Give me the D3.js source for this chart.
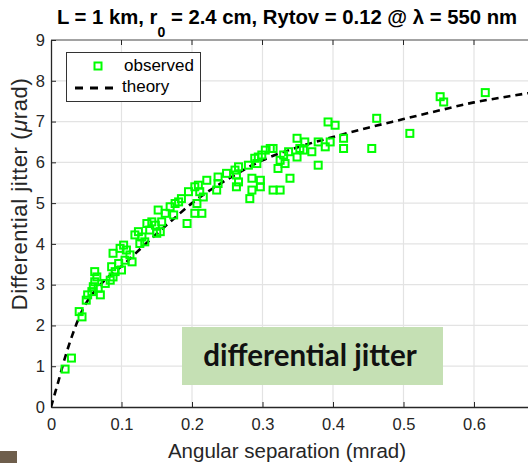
<!DOCTYPE html>
<html>
<head>
<meta charset="utf-8">
<script src="https://cdn.jsdelivr.net/npm/d3@7"></script>
<style>
  body { margin: 0; background: #fff; }
  svg { display: block; font-family: "Liberation Sans", Arial, sans-serif; }
</style>
</head>
<body>
<div id="chart"></div>
<script>
// Differential jitter vs angular separation — observed points and theory curve

const xTicks = [0, 0.1, 0.2, 0.3, 0.4, 0.5, 0.6];
const yTicks = [0, 1, 2, 3, 4, 5, 6, 7, 8, 9];

// observed: [separation (mrad), jitter (µrad)]
const observed = [
  [0.020, 0.93], [0.029, 1.20], [0.040, 2.34], [0.044, 2.21],
  [0.050, 2.62], [0.052, 2.75], [0.058, 2.83], [0.060, 2.95],
  [0.062, 3.07], [0.062, 3.32], [0.065, 3.19], [0.067, 2.91],
  [0.070, 2.75], [0.077, 3.03], [0.084, 3.11], [0.088, 3.19],
  [0.091, 3.32], [0.086, 3.44], [0.088, 3.77], [0.098, 3.89],
  [0.103, 3.97], [0.107, 3.85], [0.112, 3.73], [0.115, 3.56],
  [0.105, 3.60], [0.096, 3.52], [0.100, 3.36], [0.119, 4.22],
  [0.124, 4.30], [0.129, 4.17], [0.133, 4.05], [0.126, 4.01],
  [0.136, 4.50], [0.143, 4.54], [0.148, 4.46], [0.157, 4.54],
  [0.140, 4.34], [0.150, 4.26], [0.155, 4.30], [0.152, 4.83],
  [0.162, 4.75], [0.169, 4.91], [0.176, 4.99], [0.181, 5.03],
  [0.174, 4.71], [0.193, 4.50], [0.204, 4.75], [0.185, 5.11],
  [0.195, 5.28], [0.204, 5.40], [0.209, 5.44], [0.211, 5.28],
  [0.216, 5.15], [0.207, 4.99], [0.214, 4.75], [0.221, 5.56],
  [0.237, 5.64], [0.237, 5.48], [0.235, 5.32], [0.249, 5.73],
  [0.261, 5.81], [0.266, 5.89], [0.263, 5.69], [0.266, 5.52],
  [0.263, 5.40], [0.280, 5.93], [0.289, 6.10], [0.294, 6.13],
  [0.299, 6.18], [0.292, 5.97], [0.285, 5.61], [0.297, 5.56],
  [0.285, 5.32], [0.297, 5.40], [0.282, 5.11], [0.304, 6.30],
  [0.311, 6.34], [0.315, 6.34], [0.325, 6.05], [0.322, 5.85],
  [0.315, 5.32], [0.325, 5.32], [0.339, 5.61], [0.337, 6.26],
  [0.349, 6.59], [0.349, 6.13], [0.332, 5.97], [0.330, 6.18],
  [0.360, 6.50], [0.358, 6.30], [0.353, 6.34], [0.370, 6.26],
  [0.379, 6.50], [0.389, 6.38], [0.396, 6.50], [0.393, 6.99],
  [0.403, 6.91], [0.415, 6.59], [0.415, 6.34], [0.379, 5.93],
  [0.455, 6.34], [0.462, 7.08], [0.509, 6.71], [0.552, 7.61],
  [0.557, 7.48], [0.616, 7.71]
];

// theory curve
const theoryX = [0, 0.005, 0.01, 0.02, 0.03, 0.04, 0.05, 0.06, 0.07, 0.08, 0.1, 0.125, 0.15, 0.175, 0.2, 0.25, 0.3, 0.35, 0.4, 0.45, 0.5, 0.55, 0.6, 0.65, 0.7];
const theoryY = [0, 0.3, 0.6, 1.22, 1.75, 2.2, 2.55, 2.8, 3.0, 3.17, 3.45, 3.85, 4.25, 4.63, 5.0, 5.58, 6.05, 6.37, 6.62, 6.85, 7.06, 7.27, 7.47, 7.62, 7.76];

const W = 528, H = 463;
const m = {left: 51, top: 40, bottom: 407};
const x = d3.scaleLinear().domain([0, 0.7]).range([m.left, m.left + 0.7 * 705]);
const y = d3.scaleLinear().domain([0, 9]).range([m.bottom, m.top]);
const axisInk = "#262626";

const svg = d3.select("#chart").append("svg").attr("width", W).attr("height", H);

// grid
const g = svg.append("g");
g.selectAll(".gx").data(xTicks.slice(1)).enter().append("line")
  .attr("x1", d => x(d)).attr("x2", d => x(d)).attr("y1", y(0)).attr("y2", y(9))
  .attr("stroke", "#e3e3e3").attr("stroke-width", 1.2);
g.selectAll(".gy").data(yTicks.slice(1)).enter().append("line")
  .attr("x1", x(0)).attr("x2", W).attr("y1", d => y(d)).attr("y2", d => y(d))
  .attr("stroke", "#e3e3e3").attr("stroke-width", 1.2);

// top frame line
svg.append("line").attr("x1", x(0)).attr("x2", W).attr("y1", y(9)).attr("y2", y(9))
  .attr("stroke", "#555").attr("stroke-width", 1);

// title (drawn after frame so the subscript sits over it)
const title = svg.append("text").attr("x", 287).attr("y", 24).attr("text-anchor", "middle")
  .attr("font-size", "20.3px").attr("font-weight", "bold").attr("fill", "#000");
title.append("tspan").text("L = 1 km, r");
title.append("tspan").attr("font-size", "14px").attr("dy", 13).text("0");
title.append("tspan").attr("dy", -13).text(" = 2.4 cm, Rytov = 0.12 @ λ = 550 nm");

// axes
const xAxis = svg.append("g").attr("transform", `translate(0,${y(0)})`)
  .call(d3.axisBottom(x).tickValues(xTicks).tickSizeInner(-5).tickSizeOuter(0).tickPadding(11).tickFormat(d3.format("")));
const yAxis = svg.append("g").attr("transform", `translate(${x(0)},0)`)
  .call(d3.axisLeft(y).tickValues(yTicks).tickSizeInner(-5).tickSizeOuter(0).tickPadding(6));
[xAxis, yAxis].forEach(a => {
  a.select(".domain").attr("stroke", axisInk).attr("stroke-width", 1.3);
  a.selectAll(".tick line").attr("stroke", axisInk);
  a.selectAll("text").attr("font-size", "16.5px").attr("fill", axisInk)
    .attr("font-family", "'Liberation Sans', Arial, sans-serif");
});
// top ticks
svg.selectAll(".tt").data(xTicks.slice(1)).enter().append("line")
  .attr("x1", d => x(d)).attr("x2", d => x(d)).attr("y1", y(9)).attr("y2", y(9) + 5)
  .attr("stroke", axisInk);

// axis labels
svg.append("text").attr("x", 287).attr("y", 458).attr("text-anchor", "middle")
  .attr("font-size", "20.5px").attr("fill", axisInk).text("Angular separation (mrad)");
const yl = svg.append("text").attr("transform", `translate(27,194) rotate(-90)`)
  .attr("text-anchor", "middle").attr("font-size", "22px").attr("letter-spacing", "0.6px")
  .attr("fill", axisInk);
yl.append("tspan").text("Differential jitter (");
yl.append("tspan").attr("font-style", "italic").text("μ");
yl.append("tspan").text("rad)");

// annotation box
svg.append("rect").attr("x", 182).attr("y", 327).attr("width", 261).attr("height", 58)
  .attr("fill", "#c5e0b4");
svg.append("text").attr("x", 310).attr("y", 366).attr("text-anchor", "middle")
  .attr("font-family", "Lato, 'Open Sans', sans-serif").attr("font-weight", "bold")
  .attr("font-size", "29.5px").attr("fill", "#111").text("differential jitter");

// theory line
const theory = theoryX.map((v, i) => [v, theoryY[i]]);
svg.append("clipPath").attr("id", "plotclip").append("rect")
  .attr("x", x(0)).attr("y", y(9)).attr("width", W - x(0)).attr("height", y(0) - y(9));
svg.append("path").datum(theory).attr("clip-path", "url(#plotclip)")
  .attr("d", d3.line().x(d => x(d[0])).y(d => y(d[1])).curve(d3.curveMonotoneX))
  .attr("fill", "none").attr("stroke", "#000").attr("stroke-width", 2.6)
  .attr("stroke-dasharray", "7,5");

// observed squares
svg.selectAll(".pt").data(observed).enter().append("rect")
  .attr("x", d => x(d[0]) - 3.5).attr("y", d => y(d[1]) - 3.5)
  .attr("width", 7).attr("height", 7)
  .attr("fill", "none").attr("stroke", "#00ff00").attr("stroke-width", 2);

// legend
const lg = svg.append("g");
lg.append("rect").attr("x", 66.5).attr("y", 52.5).attr("width", 134).attr("height", 49)
  .attr("fill", "#fff").attr("stroke", "#333").attr("stroke-width", 1);
lg.append("rect").attr("x", 94.5).attr("y", 62.5).attr("width", 7).attr("height", 7)
  .attr("fill", "none").attr("stroke", "#00ff00").attr("stroke-width", 2);
lg.append("line").attr("x1", 75).attr("x2", 120).attr("y1", 88).attr("y2", 88)
  .attr("stroke", "#000").attr("stroke-width", 2.8).attr("stroke-dasharray", "8,7");
lg.append("text").attr("x", 124).attr("y", 71).attr("font-size", "17px").attr("fill", "#000").text("observed");
lg.append("text").attr("x", 122).attr("y", 92).attr("font-size", "17px").attr("fill", "#000").text("theory");

// image fragment in bottom-left corner
svg.append("rect").attr("x", 0).attr("y", 451).attr("width", 17).attr("height", 12).attr("fill", "#6e5e4c");
</script>
</body>
</html>
